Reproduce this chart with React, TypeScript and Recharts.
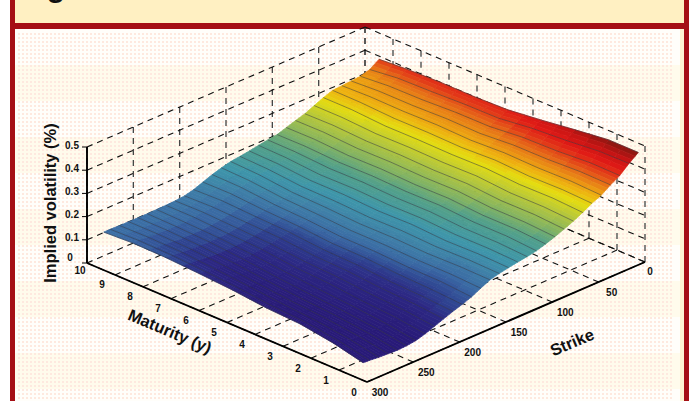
import React from 'react';
import { ScatterChart, Scatter, XAxis, YAxis } from 'recharts';

const W = 691;
const H = 401;

const maturityGrid = [0.14, 1.2, 2.4, 3.6, 4.8, 6, 7.2, 8.4, 9.4];
const strikeGrid = [3, 13, 23, 33, 43, 53, 63, 73, 83, 93, 103, 113, 123, 133, 143, 153, 163, 173, 183, 193, 203, 213, 223, 233, 243, 253, 263, 273, 283, 293, 300];

const impliedVol = [
  [.470, .470, .452, .432, .415, .410, .410, .405, .397],
  [.440, .438, .424, .414, .396, .394, .388, .384, .370],
  [.405, .406, .396, .392, .378, .377, .370, .368, .358],
  [.382, .384, .377, .376, .365, .367, .362, .362, .355],
  [.355, .360, .357, .360, .353, .357, .354, .356, .352],
  [.337, .342, .339, .346, .339, .342, .341, .348, .349],
  [.315, .322, .320, .328, .325, .327, .326, .335, .335],
  [.295, .302, .301, .312, .309, .312, .310, .318, .318],
  [.278, .286, .285, .296, .293, .297, .295, .302, .300],
  [.262, .270, .270, .281, .279, .283, .281, .289, .288],
  [.248, .257, .257, .267, .265, .270, .268, .276, .275],
  [.236, .245, .245, .255, .253, .258, .256, .263, .262],
  [.228, .235, .235, .244, .242, .248, .246, .255, .256],
  [.222, .227, .226, .234, .232, .238, .236, .247, .250],
  [.215, .219, .216, .224, .221, .228, .228, .240, .243],
  [.207, .210, .207, .213, .211, .218, .220, .233, .237],
  [.197, .199, .196, .201, .200, .208, .212, .227, .232],
  [.178, .184, .184, .189, .189, .198, .204, .218, .222],
  [.158, .168, .170, .177, .178, .189, .195, .208, .210],
  [.143, .151, .156, .166, .168, .180, .186, .196, .195],
  [.130, .139, .144, .155, .159, .172, .177, .184, .180],
  [.115, .126, .133, .145, .150, .164, .169, .174, .170],
  [.100, .114, .122, .135, .142, .156, .162, .168, .166],
  [.085, .102, .112, .126, .134, .150, .156, .164, .164],
  [.073, .092, .106, .117, .130, .144, .155, .160, .163],
  [.068, .087, .102, .113, .126, .142, .154, .160, .162],
  [.066, .087, .103, .113, .127, .143, .155, .161, .162],
  [.068, .090, .107, .118, .132, .147, .158, .162, .162],
  [.070, .095, .113, .124, .138, .151, .162, .165, .163],
  [.074, .101, .121, .130, .145, .156, .165, .168, .164],
  [.076, .106, .128, .135, .150, .160, .168, .170, .164],
];

// colour data of the lower strikes rows (from strike 143 on); the upper rows are coloured by their height
const colourFromRow = 14;
const colourValues = [
  [.212, .212, .214, .216, .218, .222, .228, .236, .243],
  [.200, .198, .202, .205, .208, .212, .218, .228, .237],
  [.185, .175, .190, .190, .195, .195, .205, .220, .230],
  [.170, .160, .170, .175, .180, .182, .195, .210, .222],
  [.150, .140, .150, .155, .160, .170, .180, .195, .212],
  [.135, .125, .125, .135, .145, .150, .165, .185, .200],
  [.125, .110, .105, .115, .125, .130, .150, .175, .190],
  [.105, .095, .098, .105, .115, .120, .145, .170, .185],
  [.090, .085, .090, .098, .105, .112, .140, .165, .180],
  [.080, .078, .085, .090, .098, .105, .135, .162, .178],
  [.070, .075, .080, .085, .092, .100, .130, .160, .175],
  [.070, .072, .076, .080, .087, .095, .125, .155, .174],
  [.070, .070, .073, .076, .082, .092, .122, .152, .172],
  [.070, .070, .072, .074, .080, .090, .120, .150, .172],
  [.070, .070, .070, .073, .080, .092, .122, .150, .172],
  [.070, .070, .070, .073, .082, .098, .130, .152, .170],
  [.070, .070, .070, .075, .085, .105, .140, .155, .170],
];

const maturityTicks = [0, 1, 2, 3, 4, 5, 6, 7, 8, 9, 10];
const strikeTicks = [0, 50, 100, 150, 200, 250, 300];
const volTicks = [0, 0.1, 0.2, 0.3, 0.4, 0.5];

const paletteStops: [number, number[]][] = [
  [.07, [40, 26, 120]],
  [.10, [44, 40, 132]],
  [.13, [47, 70, 146]],
  [.16, [58, 106, 164]],
  [.19, [63, 128, 168]],
  [.22, [62, 150, 170]],
  [.25, [82, 160, 138]],
  [.27, [128, 178, 100]],
  [.30, [180, 198, 60]],
  [.33, [228, 220, 16]],
  [.35, [238, 178, 16]],
  [.38, [230, 110, 24]],
  [.40, [226, 56, 24]],
  [.42, [224, 26, 22]],
  [.445, [196, 20, 20]],
  [.475, [120, 24, 16]],
];

function colourOf(v: number) {
  const st = paletteStops;
  if (v <= st[0][0]) return `rgb(${st[0][1].join(',')})`;
  for (let i = 1; i < st.length; i++) {
    if (v <= st[i][0]) {
      const t = (v - st[i - 1][0]) / (st[i][0] - st[i - 1][0]);
      const c = st[i - 1][1].map((a, k) => Math.round(a + (st[i][1][k] - a) * t));
      return `rgb(${c.join(',')})`;
    }
  }
  return `rgb(${st[st.length - 1][1].join(',')})`;
}

// oblique 3-D view
function project(m: number, s: number, z: number) {
  const a = 300 - s;
  return {
    px: 367 + (a / 300) * 278 - (m / 10) * 280,
    py: 382 - (a / 300) * 120 - (m / 10) * 119 - z * 232,
  };
}

function colourAt(r: number, c: number) {
  return r >= colourFromRow ? colourValues[r - colourFromRow][c] : impliedVol[r][c];
}

const SUB_S = 3;
const SUB_M = 2;

function bilerp(a: number, b: number, c: number, d: number, u: number, v: number) {
  return (a * (1 - u) + b * u) * (1 - v) + (c * (1 - u) + d * u) * v;
}

type Cell = { px: number; py: number; polys: { pts: number[][]; fill: string }[] };

const cells: Cell[] = [];
for (let r = 0; r < strikeGrid.length - 1; r++) {
  for (let c = 0; c < maturityGrid.length - 1; c++) {
    const origin = project(maturityGrid[c], strikeGrid[r], impliedVol[r][c]);
    const polys: Cell['polys'] = [];
    const at = (u: number, v: number) => {
      const m = maturityGrid[c] + (maturityGrid[c + 1] - maturityGrid[c]) * u;
      const s = strikeGrid[r] + (strikeGrid[r + 1] - strikeGrid[r]) * v;
      const z = bilerp(impliedVol[r][c], impliedVol[r][c + 1], impliedVol[r + 1][c], impliedVol[r + 1][c + 1], u, v);
      const p = project(m, s, z);
      return [p.px - origin.px, p.py - origin.py];
    };
    for (let i = 0; i < SUB_M; i++) {
      for (let j = 0; j < SUB_S; j++) {
        const u0 = i / SUB_M, u1 = (i + 1) / SUB_M, v0 = j / SUB_S, v1 = (j + 1) / SUB_S;
        const col = bilerp(colourAt(r, c), colourAt(r, c + 1), colourAt(r + 1, c), colourAt(r + 1, c + 1), (u0 + u1) / 2, (v0 + v1) / 2);
        polys.push({ pts: [at(u0, v0), at(u1, v0), at(u1, v1), at(u0, v1)], fill: colourOf(col) });
      }
    }
    cells.push({ ...origin, polys });
  }
}

const meshLines = strikeGrid.map((s, r) => maturityGrid.map((m, c) => project(m, s, impliedVol[r][c])));

const wallLines: { pts: { px: number; py: number }[]; vertical: boolean }[] = [];
strikeTicks.forEach((s) => wallLines.push({ pts: [project(10, s, 0), project(10, s, 0.5)], vertical: true }));
maturityTicks.forEach((m) => wallLines.push({ pts: [project(m, 0, 0), project(m, 0, 0.5)], vertical: true }));
volTicks.forEach((z) => {
  wallLines.push({ pts: [project(10, 300, z), project(10, 0, z)], vertical: false });
  wallLines.push({ pts: [project(10, 0, z), project(0, 0, z)], vertical: false });
});
maturityTicks.slice(0, 10).forEach((m) => wallLines.push({ pts: [project(m, 300, 0), project(m, 0, 0)], vertical: false }));
strikeTicks.slice(0, 7).forEach((s) => wallLines.push({ pts: [project(0, s, 0), project(10, s, 0)], vertical: false }));

const axisLines = [
  [project(10, 300, 0), project(0, 300, 0)],
  [project(0, 300, 0), project(0, 0, 0)],
  [project(10, 300, 0), project(10, 300, 0.5)],
];

const tickMarks = volTicks.map((z) => {
  const p = project(10, 300, z);
  return [p, { px: p.px - 5, py: p.py }];
});

type Lbl = { px: number; py: number; text: string; size: number; angle: number };
const labels: Lbl[] = [
  ...maturityTicks.map((m) => {
    const p = project(m, 300, 0);
    return m === 10
      ? { px: p.px - 7, py: p.py + 7, text: String(m), size: 10, angle: 0 }
      : { px: p.px - 13, py: p.py + 10, text: String(m), size: 10, angle: 0 };
  }),
  ...strikeTicks.map((s) => {
    const p = project(0, s, 0);
    return s === 0
      ? { px: p.px + 5, py: p.py + 9, text: String(s), size: 10, angle: 0 }
      : { px: p.px + 13, py: p.py + 10, text: String(s), size: 10, angle: 0 };
  }),
  ...volTicks.map((z) => {
    const p = project(10, 300, z);
    return z === 0
      ? { px: p.px - 17, py: p.py - 6, text: '0', size: 10, angle: 0 }
      : { px: p.px - 15, py: p.py - 2, text: String(z), size: 10, angle: 0 };
  }),
  { px: 50, py: 203, text: 'Implied volatility (%)', size: 16.5, angle: -90 },
  { px: 170, py: 331, text: 'Maturity (y)', size: 16.5, angle: 23 },
  { px: 572, py: 342, text: 'Strike', size: 16.5, angle: -23 },
];

const NoPoint = () => null;

const CellShape = (props: any) => {
  const { cx, cy, payload } = props;
  return (
    <g transform={`translate(${cx},${cy})`}>
      {payload.polys.map((p: any, i: number) => (
        <polygon key={i} points={p.pts.map((q: number[]) => q.join(',')).join(' ')} fill={p.fill} stroke={p.fill} strokeWidth={0.7} />
      ))}
    </g>
  );
};

const LabelShape = (props: any) => {
  const { cx, cy, payload } = props;
  return (
    <text
      x={cx}
      y={cy}
      textAnchor="middle"
      dominantBaseline="central"
      fontFamily="'Liberation Sans', Arial, sans-serif"
      fontWeight="bold"
      fontSize={payload.size}
      fill="#111"
      transform={payload.angle ? `rotate(${payload.angle} ${cx} ${cy})` : undefined}
    >
      {payload.text}
    </text>
  );
};

const maroon = '#a50f15';

export default function App() {
  return (
    <div style={{ position: 'absolute', left: 0, top: 0, width: W, height: H, overflow: 'hidden', background: '#fff' }}>
      <div style={{ position: 'absolute', left: 15, top: 0, width: 669, height: 23, background: '#fff0c2' }} />
      <div
        style={{
          position: 'absolute',
          left: 20,
          top: -28,
          fontFamily: "'Liberation Sans', Arial, sans-serif",
          fontWeight: 'bold',
          fontSize: 30,
          lineHeight: '30px',
          color: '#111',
        }}
      >
        Figure
      </div>
      <div style={{ position: 'absolute', left: 10, top: 0, width: 5, height: H, background: maroon }} />
      <div style={{ position: 'absolute', left: 684, top: 0, width: 5, height: H, background: maroon }} />
      <div style={{ position: 'absolute', left: 10, top: 23, width: 679, height: 6, background: maroon }} />
      <div
        style={{
          position: 'absolute',
          left: 15,
          top: 29,
          width: 669,
          height: 372,
          background: 'repeating-linear-gradient(180deg, #fffefa 0px, #fffefa 36px, #fffbec 36px, #fffbec 72px)',
        }}
      />
      <div
        style={{
          position: 'absolute',
          left: 17,
          top: 32,
          width: 656,
          height: 369,
          backgroundImage: 'radial-gradient(circle, #fee9df 0.9px, transparent 1px)',
          backgroundSize: '4px 4px',
        }}
      />
      <div style={{ position: 'absolute', left: 680, top: 29, width: 4, height: 372, background: '#fff4d2' }} />
      <div style={{ position: 'absolute', left: 0, top: 0 }}>
        <ScatterChart width={W} height={H} margin={{ top: 0, right: 0, bottom: 0, left: 0 }}>
          <XAxis type="number" dataKey="px" domain={[0, W]} hide />
          <YAxis type="number" dataKey="py" domain={[0, H]} reversed hide />
          {wallLines.map((l, i) => (
            <Scatter
              key={`wall${i}`}
              data={l.pts}
              isAnimationActive={false}
              shape={NoPoint}
              line={{ stroke: l.vertical ? '#444' : '#111', strokeWidth: l.vertical ? 1.3 : 1.1, strokeDasharray: '6 5' }}
            />
          ))}
          <Scatter data={cells} isAnimationActive={false} shape={CellShape} />
          {meshLines.map((l, i) => (
            <Scatter
              key={`mesh${i}`}
              data={l}
              isAnimationActive={false}
              shape={NoPoint}
              line={{ stroke: 'rgba(50,50,60,0.5)', strokeWidth: 1 }}
            />
          ))}
          {axisLines.map((l, i) => (
            <Scatter key={`axis${i}`} data={l} isAnimationActive={false} shape={NoPoint} line={{ stroke: '#000', strokeWidth: 1.9 }} />
          ))}
          {tickMarks.map((l, i) => (
            <Scatter key={`tick${i}`} data={l} isAnimationActive={false} shape={NoPoint} line={{ stroke: '#000', strokeWidth: 1 }} />
          ))}
          <Scatter data={labels} isAnimationActive={false} shape={LabelShape} />
        </ScatterChart>
      </div>
    </div>
  );
}
